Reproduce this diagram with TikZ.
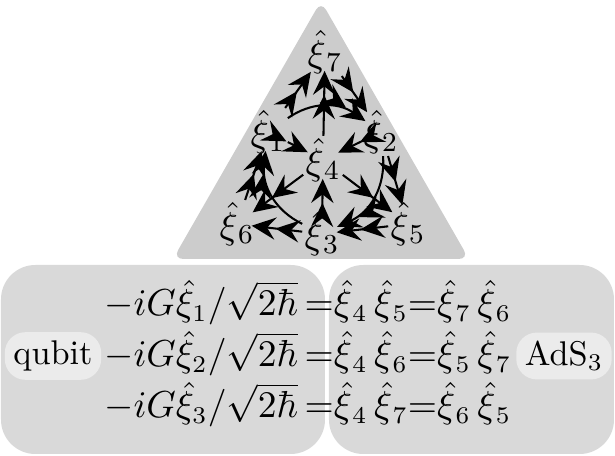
\documentclass[tikz,border=0pt]{standalone}
\usetikzlibrary{arrows.meta}
\newcommand\xh[1]{\hat{\xi}_{\kern0.6pt#1}}
\begin{document}
\begin{tikzpicture}[x=0.2915pt,y=-0.2915pt,
  arr/.style={line width=0.6pt,-{Stealth[length=7pt,width=6.5pt,inset=2.5pt]Stealth[length=7pt,width=6.5pt,inset=2.5pt,sep=-1.5pt]}},
  xi/.style={inner sep=0.5pt,font=\fontsize{11}{13}\selectfont},
  tag/.style={fill=black!8,rounded corners=6pt,inner sep=2.5pt},
  eq/.style={inner sep=0pt,font=\fontsize{10.7}{13}\selectfont}]
\useasboundingbox (0,0) rectangle (615,456);
\fill[black!20,rounded corners=3pt] (321,1)--(173,259)--(469,259)--cycle;
\fill[black!15,rounded corners=10pt] (1,265) rectangle (325,454);
\fill[black!15,rounded corners=10pt] (329,265) rectangle (614,454);
\node[xi] (x7) at (325,52) {$\xh7$};
\node[xi] (x1) at (268,132) {$\xh1$};
\node[xi] (x2) at (381,132) {$\xh2$};
\node[xi] (x4) at (323,160) {$\xh4$};
\node[xi] (x6) at (237,224) {$\xh6$};
\node[xi] (x3) at (322,234) {$\xh3$};
\node[xi] (x5) at (408,224) {$\xh5$};
\draw[arr] (x1)--(x7);
\draw[arr] (x7)--(x2);
\draw[arr] (x4)--(x7);
\draw[arr] (x1)--(x4);
\draw[arr] (x2)--(x4);
\draw[arr] (x2)--(x5);
\draw[arr] (x6)--(x1);
\draw[arr] (x4)--(x6);
\draw[arr] (x3)--(x4);
\draw[arr] (x3)--(x6);
\draw[arr] (x5)--(x3);
\draw[arr] (x4)--(x5);
\draw[arr] (x1) to[bend left=35] (x2);
\draw[arr] (x2) to[bend left=35] (x3);
\draw[arr] (x3) to[bend left=35] (x1);
\node[tag] (qb) at (53,356) {qubit};
\node[tag] (ads) at (564,356) {AdS$_3$};
\node[eq,anchor=base east] (l1) at (299,316) {$-iG\hat\xi_1/\sqrt{2\hbar}$};
\node[eq,anchor=base east] (l2) at (299,367) {$-iG\hat\xi_2/\sqrt{2\hbar}$};
\node[eq,anchor=base east] (l3) at (299,418) {$-iG\hat\xi_3/\sqrt{2\hbar}$};
\node[eq,anchor=base west] (r1) at (304,316) {${=}\xh4\,\xh5{=}\xh7\,\xh6$};
\node[eq,anchor=base west] (r2) at (304,367) {${=}\xh4\,\xh6{=}\xh5\,\xh7$};
\node[eq,anchor=base west] (r3) at (304,418) {${=}\xh4\,\xh7{=}\xh6\,\xh5$};
\end{tikzpicture}
\end{document}
